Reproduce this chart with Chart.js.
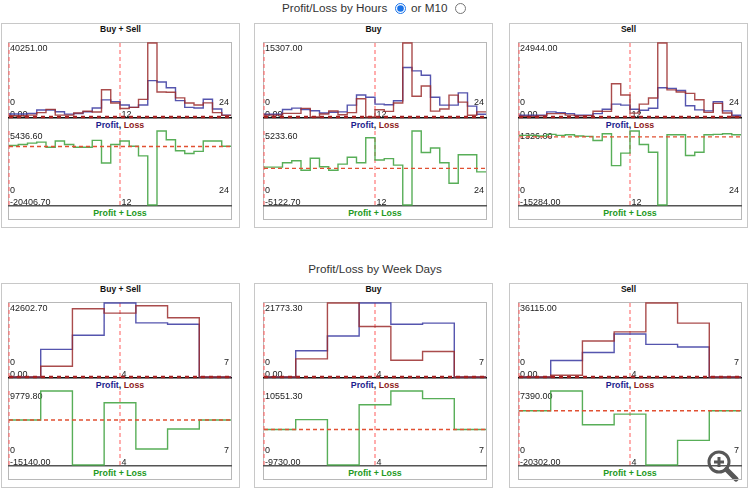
<!DOCTYPE html>
<html>
<head>
<meta charset="utf-8">
<title>Profit/Loss</title>
<script src="https://cdn.jsdelivr.net/npm/chart.js@4"></script>
<style>
  html, body { margin: 0; padding: 0; background: #fff; }
  body { position: relative; width: 750px; height: 490px; overflow: hidden; font-family: Arial, "Liberation Sans", sans-serif; color: #333; }
  .abs { position: absolute; }
  .head { font-size: 11.7px; line-height: 14px; white-space: nowrap; color: #333; }
  .head input { position: absolute; margin: 0; width: 11px; height: 11px; accent-color: #1a73e8; }
  .panel { border: 1px solid #c8c8c8; box-sizing: border-box; }
  .ptitle { font-size: 8.5px; font-weight: bold; color: #111; text-align: center; line-height: 10px; }
  .box { border: 1px solid #b8b8b8; box-sizing: border-box; }
  .cap { font-size: 8.8px; font-weight: bold; text-align: center; line-height: 10px; white-space: nowrap; }
</style>
</head>
<body>
<div class="abs head" style="left:282px;top:1px">Profit/Loss by Hours</div>
<div class="abs head" style="left:0;top:1px;width:750px">
  <input type="radio" name="mode" checked style="left:395px;top:2px">
  <span class="abs" style="left:411px;top:0">or M10</span>
  <input type="radio" name="mode" style="left:455px;top:2px">
</div>
<div class="abs head" style="left:0;top:262px;width:750px;text-align:center">Profit/Loss by Week Days</div>

<svg class="abs" style="left:702px;top:445px;opacity:0.85" width="40" height="40" viewBox="0 0 40 40">
  <circle cx="17" cy="17" r="10" fill="rgba(255,255,255,0.6)" stroke="#3a3a3a" stroke-width="3"/>
  <path d="M12 17h10M17 12v10" stroke="#3a3a3a" stroke-width="3"/>
  <path d="M24.5 24.5L34 34" stroke="#3a3a3a" stroke-width="5" stroke-linecap="round"/>
</svg>

<script>
// categories
const hours = [0, 1, 2, 3, 4, 5, 6, 7, 8, 9, 10, 11, 12, 13, 14, 15, 16, 17, 18, 19, 20, 21, 22, 23];
const weekDays = [0, 1, 2, 3, 4, 5, 6];
const hourTicks = ['0', '12', '24'];
const dayTicks = ['0', '4', '7'];
const panelNames = ['Buy + Sell', 'Buy', 'Sell'];

// by hours: Buy + Sell
const hourBothProfit = [1600, 1600, 1930, 3780, 3780, 2860, 1560, 1930, 2860, 4880, 9300, 8380, 6540, 5250, 6540, 19800, 19060, 15930, 8930, 5250, 4880, 9670, 4330, 1010];
const hourBothLoss = [640, 640, 1010, 2400, 4150, 1000, 1000, 2200, 3100, 2700, 14830, 7600, 4600, 5250, 9600, 40251, 13600, 13500, 10400, 7600, 6560, 7700, 2400, 900];
const hourBothNet = [360, 720, 1200, 1560, -240, 1920, 720, -240, -240, 2160, -5760, 720, 1920, 100, -3240, -20406.7, 5436.6, 2400, -1440, -2400, -1680, 1920, 1920, 100];
// by hours: Buy
const hourBuyProfit = [560, 560, 1540, 1830, 1540, 1300, 840, 980, 1050, 2460, 4560, 4070, 2670, 2530, 3370, 10250, 9550, 8630, 4070, 2460, 2460, 4980, 2250, 560];
const hourBuyLoss = [380, 380, 740, 750, 1790, 0, 620, 1230, 450, 900, 3760, 0, 1490, 1160, 2910, 15307, 4280, 6400, 1220, 1660, 4530, 3080, 350, 1050];
const hourBuyNet = [180, 180, 800, 1080, -250, 1420, 220, -250, 600, 1560, 800, 4280, 1180, 1370, 460, -5122.7, 5233.6, 2230, 2850, 800, -2070, 1900, 1900, -490];
// by hours: Sell
const hourSellProfit = [570, 570, 570, 1720, 1490, 1140, 570, 570, 1140, 2630, 4350, 4000, 2630, 2290, 2970, 9840, 9650, 8920, 3780, 2400, 2060, 5150, 2060, 570];
const hourSellLoss = [220, 220, 370, 1150, 1140, 640, 370, 450, 1930, 1910, 11210, 7440, 1300, 4350, 6410, 24944, 9150, 8420, 7960, 5830, 1560, 4580, 1340, 70];
const hourSellNet = [350, 350, 200, 570, 350, 500, 200, 120, -790, 720, -6450, -3650, 1326, -1690, -3430, -15284, 500, 500, -4180, -3430, 500, 570, 720, 500];

// by week days
const dayBothProfit = [0, 15880, 24000, 42602.7, 31170, 30400, 0];
const dayBothLoss = [0, 6200, 39300, 36780, 41040, 34070, 0];
const dayBothNet = [0, 9779.8, -15140, 5800, -9770, -3030, 0];
const dayBuyProfit = [0, 7720, 12070, 21773.3, 15540, 15840, 0];
const dayBuyLoss = [0, 5340, 21770, 14850, 4950, 7520, 0];
const dayBuyNet = [0, 2700, -9730, 6800, 10551.3, 8450, 0];
const daySellProfit = [0, 8050, 11990, 21020, 15930, 14610, 0];
const daySellLoss = [0, 820, 17570, 22000, 36115, 26270, 0];
const daySellNet = [0, 7390, -5240, -1250, -20302, -11100, 0];

// axis extents shown as corner labels
const hourTopMax = [40251.00, 15307.00, 24944.00];
const hourNetMax = [5436.60, 5233.60, 1326.00];
const hourNetMin = [-20406.70, -5122.70, -15284.00];
const dayTopMax = [42602.70, 21773.30, 36115.00];
const dayNetMax = [9779.80, 10551.30, 7390.00];
const dayNetMin = [-15140.00, -9730.00, -20302.00];

const panelLefts = [1, 254, 509];
const boxLefts = [8, 263, 518];
const rowTops = [23, 283];

const edgeLabels = {
  id: 'edgeLabels',
  beforeDatasetsDraw(chart, args, opts) {
    const { ctx, chartArea: a, scales: { x, y } } = chart;
    const mid = x.getPixelForValue((x.min + x.max) / 2);
    ctx.save();
    ctx.strokeStyle = opts.base;
    ctx.lineWidth = 1.5;
    ctx.beginPath();
    ctx.moveTo(a.left - 1, a.bottom + 0.75);
    ctx.lineTo(a.right + 1, a.bottom + 0.75);
    ctx.stroke();
    ctx.font = '9px Arial';
    ctx.fillStyle = '#222';
    ctx.textAlign = 'left';
    ctx.fillText(y.max.toFixed(2), a.left + 1, a.top + 8);
    ctx.fillText(opts.ticks[0], a.left + 1, a.bottom - 12);
    ctx.fillText(y.min.toFixed(2), a.left + 1, a.bottom - 0.5);
    ctx.fillText(opts.ticks[1], mid + 1.5, a.bottom - 0.5);
    ctx.textAlign = 'right';
    ctx.fillText(opts.ticks[2], a.right - 2, a.bottom - 12);
    ctx.restore();
  }
};

function el(cls, style, html) {
  const d = document.createElement('div');
  d.className = 'abs ' + cls;
  Object.assign(d.style, style);
  if (html) d.innerHTML = html;
  document.body.appendChild(d);
  return d;
}

function steps(xs, ys, xEnd) {
  const pts = xs.map((x, i) => ({ x: x, y: ys[i] }));
  pts.push({ x: xEnd, y: ys[ys.length - 1] });
  return pts;
}

function guideLines(xMin, xMax, yMin, yMax) {
  const mid = (xMin + xMax) / 2;
  return [xMin, mid].map(v => ({
    data: [{ x: v, y: yMin }, { x: v, y: yMax }],
    borderColor: 'rgba(255,95,95,0.85)', borderWidth: 1.2, borderDash: [4, 3], order: 9
  }));
}

function makeChart(left, top, xs, xEnd, ticks, yMin, yMax, lines, zero, base) {
  const cv = document.createElement('canvas');
  cv.width = 224;
  cv.height = 78;
  cv.className = 'abs';
  cv.style.left = left + 'px';
  cv.style.top = top + 'px';
  document.body.appendChild(cv);

  const datasets = lines.map((l, i) => ({
    data: steps(xs, l.values, xEnd),
    stepped: 'before',
    borderColor: l.color,
    borderWidth: 1.4,
    order: i + 1
  }));
  datasets.push({
    data: [{ x: xs[0], y: 0 }, { x: xEnd, y: 0 }],
    borderColor: zero.color, borderWidth: zero.width, borderDash: zero.dash, order: 0
  });
  datasets.push(...guideLines(xs[0], xEnd, yMin, yMax));

  new Chart(cv, {
    type: 'line',
    data: { datasets: datasets },
    options: {
      responsive: false,
      animation: false,
      events: [],
      layout: { padding: { top: 2, bottom: 2, left: 1, right: 1 } },
      datasets: { line: { clip: false, pointRadius: 0, fill: false } },
      plugins: {
        legend: { display: false },
        tooltip: { enabled: false },
        edgeLabels: { ticks: ticks, base: base }
      },
      scales: {
        x: { type: 'linear', display: false, min: xs[0], max: xEnd },
        y: { display: false, min: yMin, max: yMax }
      }
    },
    plugins: [edgeLabels]
  });
}

const blue = 'rgba(55,55,160,0.85)';
const red = 'rgba(155,45,45,0.85)';
const green = 'rgba(70,165,70,0.9)';

const rows = [
  {
    xs: hours, end: 24, ticks: hourTicks,
    top: hourTopMax, netMin: hourNetMin, netMax: hourNetMax,
    profit: [hourBothProfit, hourBuyProfit, hourSellProfit],
    loss: [hourBothLoss, hourBuyLoss, hourSellLoss],
    net: [hourBothNet, hourBuyNet, hourSellNet]
  },
  {
    xs: weekDays, end: 7, ticks: dayTicks,
    top: dayTopMax, netMin: dayNetMin, netMax: dayNetMax,
    profit: [dayBothProfit, dayBuyProfit, daySellProfit],
    loss: [dayBothLoss, dayBuyLoss, daySellLoss],
    net: [dayBothNet, dayBuyNet, daySellNet]
  }
];

rows.forEach((row, r) => {
  const pTop = rowTops[r];
  const bTop = pTop + 19;
  panelNames.forEach((name, p) => {
    el('panel', { left: panelLefts[p] + 'px', top: pTop + 'px', width: '239px', height: '205px' });
    el('ptitle', { left: panelLefts[p] + 'px', top: (pTop + 1) + 'px', width: '239px' }, name);
    el('box', { left: boxLefts[p] + 'px', top: bTop + 'px', width: '224px', height: '178px' });

    makeChart(boxLefts[p], bTop - 1, row.xs, row.end, row.ticks, 0, row.top[p],
      [{ values: row.loss[p], color: red }, { values: row.profit[p], color: blue }],
      { color: '#a32020', width: 2.5, dash: [4, 4] }, '#111');

    el('cap', { left: boxLefts[p] + 'px', top: (bTop + 78) + 'px', width: '224px' },
      '<span style="color:#1c1c8e">Profit</span><span style="color:#222">, </span><span style="color:#8e1c1c">Loss</span>');

    makeChart(boxLefts[p], bTop + 87, row.xs, row.end, row.ticks, row.netMin[p], row.netMax[p],
      [{ values: row.net[p], color: green }],
      { color: 'rgb(225,80,50)', width: 1.4, dash: [4, 3] }, '#555');

    el('cap', { left: boxLefts[p] + 'px', top: (bTop + 166) + 'px', width: '224px', color: '#229922' }, 'Profit + Loss');
  });
});
</script>
</body>
</html>
